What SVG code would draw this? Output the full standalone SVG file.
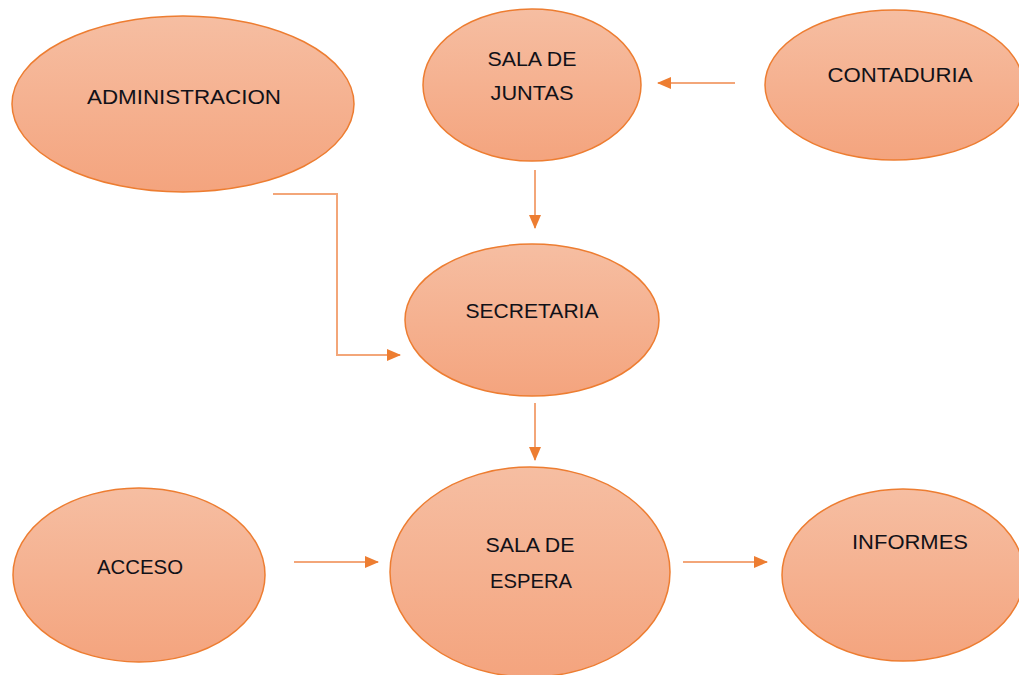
<svg xmlns="http://www.w3.org/2000/svg" width="1019" height="675" viewBox="0 0 1019 675">
<defs>
<linearGradient id="g" x1="0" y1="0" x2="0" y2="1">
<stop offset="0" stop-color="#f6bea2"/>
<stop offset="1" stop-color="#f4a47e"/>
</linearGradient>
<marker id="ah" markerWidth="14" markerHeight="12" refX="13" refY="6" orient="auto" markerUnits="userSpaceOnUse">
<path d="M0,0 L14,6 L0,12 Z" fill="#ed7d31"/>
</marker>
<style>
.n{fill:url(#g);stroke:#ed7d31;stroke-width:1.5}
.t{font-family:"Liberation Sans",Arial,sans-serif;font-size:21px;fill:#111118;text-anchor:middle}
.c{fill:none;stroke:#f3a679;stroke-width:2;marker-end:url(#ah)}
</style>
</defs>
<rect width="1019" height="675" fill="#ffffff"/>
<g id="connectors">
<line class="c" x1="735" y1="83" x2="658" y2="83"/>
<line class="c" x1="535" y1="170" x2="535" y2="228"/>
<polyline class="c" points="273,194 337,194 337,355 400,355"/>
<line class="c" x1="535" y1="403" x2="535" y2="460"/>
<line class="c" x1="294" y1="562" x2="378" y2="562"/>
<line class="c" x1="683" y1="562" x2="767" y2="562"/>
</g>
<g id="administracion">
<ellipse class="n" cx="183" cy="104" rx="171" ry="88"/>
<text class="t" x="184" y="104" textLength="194" lengthAdjust="spacingAndGlyphs">ADMINISTRACION</text>
</g>
<g id="sala-de-juntas">
<ellipse class="n" cx="532" cy="85" rx="109" ry="76"/>
<text class="t" x="532" y="66" textLength="89" lengthAdjust="spacingAndGlyphs">SALA DE</text>
<text class="t" x="532" y="100" textLength="83" lengthAdjust="spacingAndGlyphs">JUNTAS</text>
</g>
<g id="contaduria">
<ellipse class="n" cx="894" cy="85" rx="129" ry="75"/>
<text class="t" x="900" y="82" textLength="145" lengthAdjust="spacingAndGlyphs">CONTADURIA</text>
</g>
<g id="secretaria">
<ellipse class="n" cx="532" cy="320" rx="127" ry="76"/>
<text class="t" x="532" y="318" textLength="133" lengthAdjust="spacingAndGlyphs">SECRETARIA</text>
</g>
<g id="acceso">
<ellipse class="n" cx="139" cy="575" rx="126" ry="87"/>
<text class="t" x="140" y="574" textLength="86" lengthAdjust="spacingAndGlyphs">ACCESO</text>
</g>
<g id="sala-de-espera">
<ellipse class="n" cx="530" cy="572" rx="140" ry="105"/>
<text class="t" x="530" y="552" textLength="89" lengthAdjust="spacingAndGlyphs">SALA DE</text>
<text class="t" x="531" y="588" textLength="82" lengthAdjust="spacingAndGlyphs">ESPERA</text>
</g>
<g id="informes">
<ellipse class="n" cx="903" cy="575" rx="121" ry="86"/>
<text class="t" x="910" y="549" textLength="116" lengthAdjust="spacingAndGlyphs">INFORMES</text>
</g>
</svg>
